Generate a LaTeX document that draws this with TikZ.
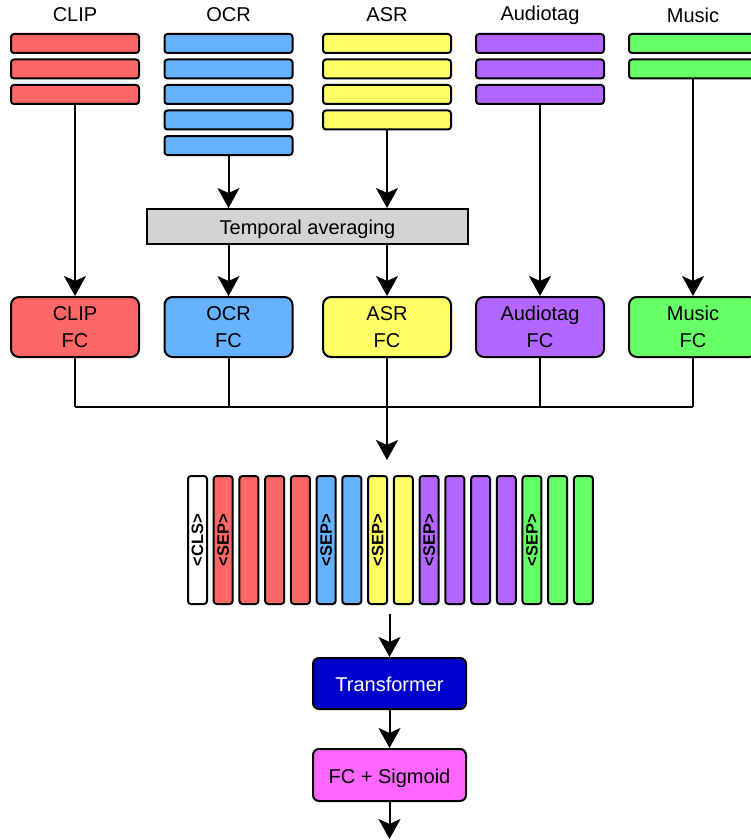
\documentclass[tikz,border=0pt]{standalone}
\usepackage{fontspec}
\setmainfont{Liberation Sans}
\usetikzlibrary{arrows.meta}

\definecolor{clipc}{HTML}{FF6666}
\definecolor{ocrc}{HTML}{66B2FF}
\definecolor{asrc}{HTML}{FFFF66}
\definecolor{audc}{HTML}{B266FF}
\definecolor{musc}{HTML}{66FF66}
\definecolor{avgc}{HTML}{D3D3D3}
\definecolor{trc}{HTML}{0000CC}
\definecolor{sigc}{HTML}{FF66FF}

\tikzset{
  lbl/.style={font=\fontsize{20}{24}\selectfont, inner sep=0pt},
  strip/.style={draw, line width=2pt, rounded corners=3pt, minimum width=128pt,
    minimum height=19pt, inner sep=0pt},
  fcbox/.style={draw, line width=2pt, rounded corners=8pt, minimum width=128pt,
    minimum height=60pt, align=center, inner sep=0pt, font=\fontsize{20}{27}\selectfont},
  token/.style={draw, line width=2pt, rounded corners=3pt, minimum width=19pt,
    minimum height=128pt, inner sep=0pt},
  toktext/.style={font=\bfseries\fontsize{16.5}{16.5}\selectfont, rotate=90, inner sep=0pt},
  blockbox/.style={draw, line width=2pt, rounded corners=6pt, minimum width=153pt,
    minimum height=51pt, inner sep=0pt, text height=16pt, text depth=0pt,
    font=\fontsize{20}{24}\selectfont},
  arr/.style={-{Stealth[length=20pt, width=22pt, inset=5pt]}, line width=2pt},
  wire/.style={line width=2pt},
}

\begin{document}
\begin{tikzpicture}[x=1pt, y=-1pt]
\useasboundingbox (0,0) rectangle (751,840);
\clip (0,0) rectangle (751,840);

% modality titles
\node[lbl] (tclip) at (75,15) {CLIP};
\node[lbl] (tocr)  at (228.5,15) {OCR};
\node[lbl] (tasr)  at (387,15) {ASR};
\node[lbl] (taud)  at (540,15) {Audiotag};
\node[lbl] (tmus)  at (693,15) {Music};

% feature stacks
\foreach \i in {1,2,3} \node[strip, fill=clipc] (clip\i) at (75,{43.5+25.5*(\i-1)}) {};
\foreach \i in {1,...,5} \node[strip, fill=ocrc] (ocr\i) at (228.5,{43.5+25.5*(\i-1)}) {};
\foreach \i in {1,...,4} \node[strip, fill=asrc] (asr\i) at (387,{43.5+25.5*(\i-1)}) {};
\foreach \i in {1,2,3} \node[strip, fill=audc] (aud\i) at (540,{43.5+25.5*(\i-1)}) {};
\foreach \i in {1,2} \node[strip, fill=musc] (mus\i) at (693,{43.5+25.5*(\i-1)}) {};

% temporal averaging
\node[draw, line width=2pt, fill=avgc, minimum width=321pt, minimum height=35pt,
  inner sep=0pt, text height=17pt, text depth=2pt,
  font=\fontsize{20}{24}\selectfont] (avg) at (307.5,226.5) {Temporal averaging};

% per-modality FC layers
\node[fcbox, fill=clipc] (clipfc) at (75,327)    {CLIP\\FC};
\node[fcbox, fill=ocrc]  (ocrfc)  at (228.5,327) {OCR\\FC};
\node[fcbox, fill=asrc]  (asrfc)  at (387,327)   {ASR\\FC};
\node[fcbox, fill=audc]  (audfc)  at (540,327)   {Audiotag\\FC};
\node[fcbox, fill=musc]  (musfc)  at (693,327)   {Music\\FC};

\draw[arr] (clip3.south) -- (clipfc.north);
\draw[arr] (ocr5.south) -- (ocr5.south |- avg.north);
\draw[arr] (asr4.south) -- (asr4.south |- avg.north);
\draw[arr] (ocrfc.north |- avg.south) -- (ocrfc.north);
\draw[arr] (asrfc.north |- avg.south) -- (asrfc.north);
\draw[arr] (aud3.south) -- (audfc.north);
\draw[arr] (mus2.south) -- (musfc.north);

% concatenation bus
\coordinate (busL) at (75,407);
\coordinate (busR) at (693,407);
\coordinate (busM) at (387,407);
\coordinate (busEnd) at (387,460);
\draw[wire] (busL) -- (busR);
\foreach \n in {clipfc,ocrfc,asrfc,audfc,musfc}
  \draw[wire] (\n.south) -- (\n.south |- busL);
\draw[arr, line width=2.5pt] (busM) -- (busEnd);

% token sequence
\foreach \k/\c in {0/white,1/clipc,2/clipc,3/clipc,4/clipc,5/ocrc,6/ocrc,7/asrc,8/asrc,
                   9/audc,10/audc,11/audc,12/audc,13/musc,14/musc,15/musc}
  \node[token, fill=\c] (tok\k) at ({197.5+25.73*\k},540) {};
\node[toktext] (cls) at (tok0) {<CLS>};
\foreach \k in {1,5,7,9,13} \node[toktext] (sep\k) at (tok\k) {<SEP>};

% head
\node[blockbox, fill=trc, text=white] (trans) at (389.5,683.5) {Transformer};
\node[blockbox, fill=sigc, minimum height=52pt] (sig) at (389.5,775) {FC + Sigmoid};
\coordinate (tokOut) at (389.5,614);
\coordinate (outEnd) at (389.5,839);
\draw[arr] (tokOut) -- (trans.north);
\draw[arr] (trans.south) -- (sig.north);
\draw[arr] (sig.south) -- (outEnd);
\end{tikzpicture}
\end{document}
